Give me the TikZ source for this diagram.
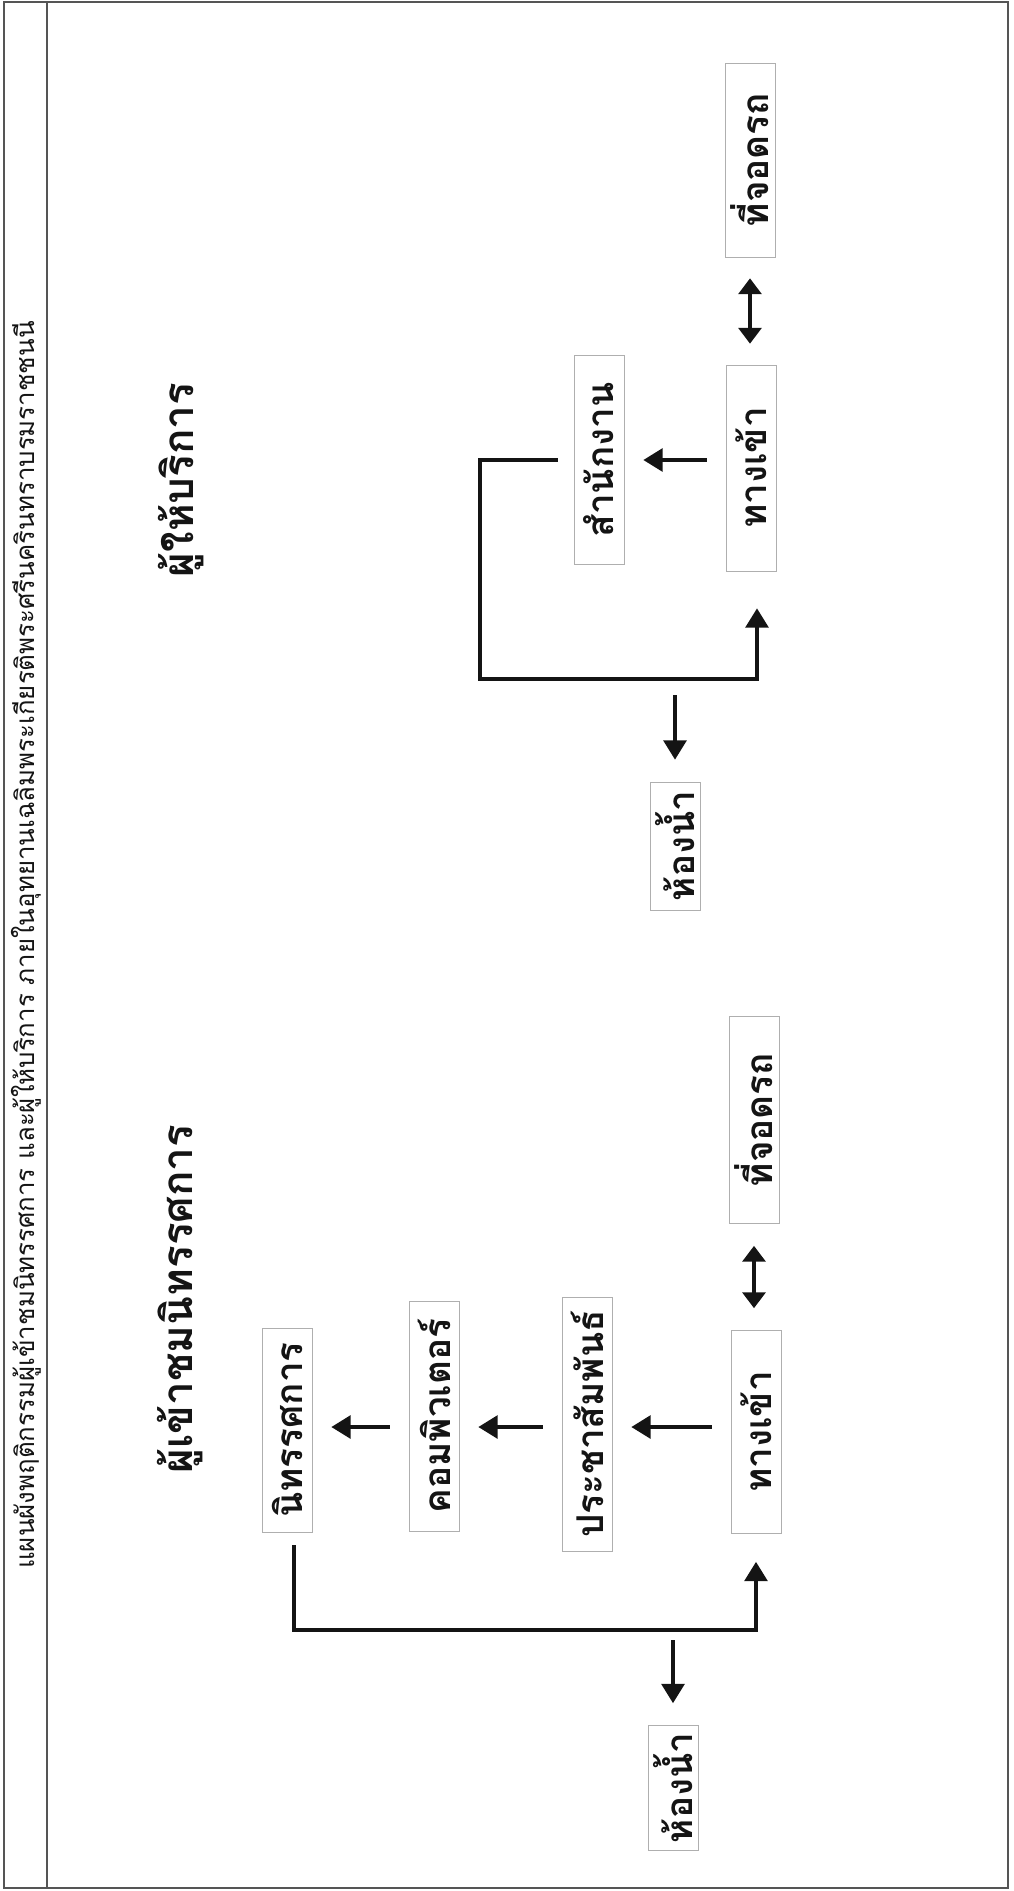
\documentclass[tikz,border=0pt]{standalone}
\usepackage{fontspec}
\usepackage{tikz}
\usetikzlibrary{calc,arrows.meta}
\newfontfamily\thaifont[Script=Thai]{Loma}
\definecolor{boxgray}{RGB}{175,175,175}
\definecolor{framegray}{RGB}{85,85,85}
\definecolor{inkdark}{RGB}{20,20,20}

\begin{document}
\begin{tikzpicture}[x=0.02cm,y=-0.02cm,
  placebox/.style={draw=boxgray, line width=0.4pt, rotate=90, minimum height=1cm, inner sep=0pt, text=inkdark, font=\thaifont\bfseries\fontsize{21}{24}\selectfont},
  grouptitle/.style={rotate=90, text=inkdark, font=\thaifont\bfseries\fontsize{24}{28}\selectfont},
  route/.style={draw=inkdark, line width=2pt},
  flow/.style={route, -{Triangle[length=11pt,width=13pt]}},
  twoway/.style={route, {Triangle[length=9pt,width=13pt]}-{Triangle[length=9pt,width=13pt]}},
  gap/.style={shorten <=0.38cm, shorten >=0.38cm}]

\useasboundingbox (0,0) rectangle (1014,1891);
\draw[framegray, line width=1.2pt] (4,2) rectangle (1008,1888);
\draw[framegray, line width=1.2pt] (47,2) -- (47,1888);
\node[rotate=90, text=inkdark, font=\thaifont\fontsize{14.7}{16}\selectfont] (heading) at (26,945)
  {แผนผังพฤติกรรมผู้เข้าชมนิทรรศการ และผู้ให้บริการ ภายในอุทยานเฉลิมพระเกียรติพระศรีนครินทราบรมราชชนนี};

\node[grouptitle] (visitorhead) at (180,1299) {ผู้เข้าชมนิทรรศการ};
\node[grouptitle] (staffhead) at (181,480) {ผู้ให้บริการ};

% visitors
\node[placebox, minimum width=4.08cm] (exhibit) at (287,1430) {นิทรรศการ};
\node[placebox, minimum width=4.6cm] (computer) at (434,1416) {คอมพิวเตอร์};
\node[placebox, minimum width=5.08cm] (pubrel) at (587,1424) {ประชาสัมพันธ์};
\node[placebox, minimum width=4.06cm] (entryL) at (756,1432) {ทางเข้า};
\node[placebox, minimum width=4.14cm] (parkL) at (754,1120) {ที่จอดรถ};
\node[placebox, minimum width=2.5cm] (toiletL) at (673,1788) {ห้องน้ำ};
\coordinate (rowL) at (0,1427);
\coordinate (baseL) at (0,1630);
\coordinate (dropL) at (673,1640);

\draw[flow, gap] (entryL.north |- rowL) -- (pubrel.south |- rowL);
\draw[flow, gap] (pubrel.north |- rowL) -- (computer.south |- rowL);
\draw[flow, gap] (computer.north |- rowL) -- (exhibit.south |- rowL);
\draw[twoway, shorten <=0.44cm, shorten >=0.44cm] (parkL.west) -- (parkL.west |- entryL.east);
\draw[flow] ($(exhibit.west)+(7,13)$) |- (baseL -| entryL) -- ($(entryL.west)+(0,28)$);
\draw[flow, shorten >=0.44cm] (dropL) -- (toiletL);

% staff
\node[placebox, minimum width=3.88cm] (parkR) at (750,160) {ที่จอดรถ};
\node[placebox, minimum width=4.12cm] (entryR) at (751,468) {ทางเข้า};
\node[placebox, minimum width=4.18cm] (office) at (599,460) {สำนักงาน};
\node[placebox, minimum width=2.56cm] (toiletR) at (675,846) {ห้องน้ำ};
\coordinate (baseR) at (480,679);
\coordinate (dropR) at (675,695);

\draw[flow, gap] (entryR.north |- office) -- (office.south);
\draw[twoway, shorten <=0.42cm, shorten >=0.42cm] (parkR.west) -- (parkR.west |- entryR.east);
\draw[flow] ($(office.north)+(-16,0)$) -| (baseR) -| ($(entryR.west)+(6,37)$);
\draw[flow, shorten >=0.44cm] (dropR) -- (toiletR);
\end{tikzpicture}
\end{document}
